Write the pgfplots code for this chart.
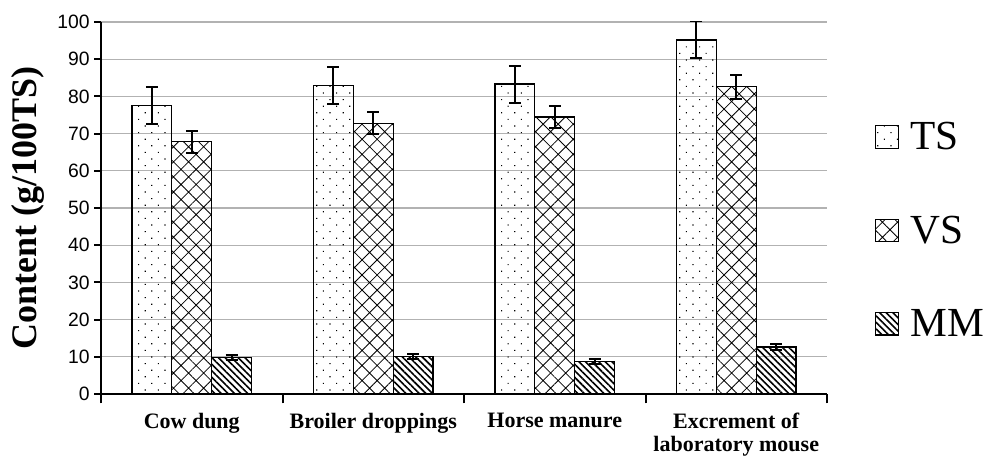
\documentclass[border=0pt]{standalone}
\usepackage{fontspec}
\setmainfont{Liberation Serif}
\setsansfont{Liberation Sans}
\usepackage{pgfplots}
\usepackage{pgfplotstable}
\pgfplotsset{compat=1.18}
\usetikzlibrary{patterns.meta}

\pgfplotstableread{
x ts tse vs vse mm mme
0 77.5 4.9 67.8 3.0 9.8 0.6
1 83.0 5.0 72.8 3.0 10.0 0.7
2 83.3 5.0 74.5 3.0 8.7 0.7
3 95.2 5.0 82.6 3.2 12.6 0.8
}\data

\begin{document}
\begin{tikzpicture}
\begin{axis}[name=ax, scale only axis, width=544.5pt, height=279pt,
  ybar=0pt, bar width=0.22,
  xmin=-0.5, xmax=3.5, ymin=0, ymax=100,
  xtick={0,1,2,3},
  xticklabels={Cow dung, Broiler droppings, Horse manure, {Excrement of\\laboratory mouse}},
  xticklabel style={align=center, font=\bfseries\fontsize{16.5}{17}\selectfont, anchor=north, yshift=-6pt},
  major x tick style={draw=none},
  minor xtick={-0.5,0.5,1.5,2.5,3.5},
  minor x tick style={black, line width=1.5pt},
  minor tick length=7pt,
  ytick={0,10,...,100},
  ymajorgrids, grid style={gray!60, line width=1pt},
  axis x line*=bottom, axis y line*=left,
  tick align=outside,
  major tick length=5pt,
  y tick style={black, line width=1.5pt},
  axis line style={line width=1.8pt},
  /pgf/number format/assume math mode=true,
  yticklabel style={font=\sffamily\fontsize{14.5}{15}\selectfont},
  every axis y label/.style={at={(axis description cs:-0.1,0.5)}, rotate=90, anchor=center},
  ylabel={Content (g/100TS)},
  ylabel style={font=\bfseries\fontsize{27}{27}\selectfont},
  legend image code/.code={\draw[#1, line width=0.8pt] (0pt,-8.5pt) rectangle (17pt,8.5pt);},
  legend style={draw=none, fill=none, at={(axis description cs:1.060,0.44)}, anchor=west,
    font=\fontsize{31}{31}\selectfont, row sep=44pt,
    /tikz/every odd column/.append style={column sep=7pt}},
  legend cell align=left,
]
\addplot[draw=black, line width=1pt, pattern={Dots[angle=45, distance=7pt, radius=0.6pt]},
  error bars/.cd, y dir=both, y explicit,
  error bar style={line width=1.5pt, black},
  error mark options={rotate=90, mark size=4.5pt, line width=1.5pt, black}]
  table[x=x, y=ts, y error=tse] {\data};
\addplot[draw=black, line width=1pt, pattern={Hatch[distance=8pt, angle=45, line width=0.6pt]},
  error bars/.cd, y dir=both, y explicit,
  error bar style={line width=1.5pt, black},
  error mark options={rotate=90, mark size=4.5pt, line width=1.5pt, black}]
  table[x=x, y=vs, y error=vse] {\data};
\addplot[draw=black, line width=1pt, pattern={Lines[angle=-45, distance=3.5pt, line width=1.2pt]},
  error bars/.cd, y dir=both, y explicit,
  error bar style={line width=1.5pt, black},
  error mark options={rotate=90, mark size=4.5pt, line width=1.5pt, black}]
  table[x=x, y=mm, y error=mme] {\data};
\legend{TS, VS, MM}
\end{axis}
\pgfresetboundingbox
\path[use as bounding box] ([xshift=-75.75pt, yshift=-46.5pt]ax.south west) rectangle ([xshift=122.25pt, yshift=16.5pt]ax.north east);
\end{tikzpicture}
\end{document}
